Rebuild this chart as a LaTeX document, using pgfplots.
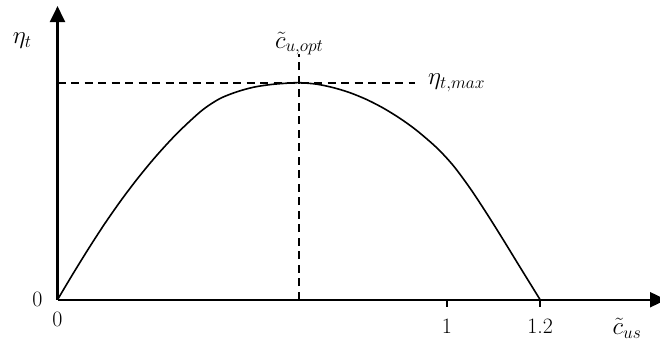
\documentclass[border=0pt]{standalone}
\usepackage{fix-cm}
\usepackage{pgfplots}
\pgfplotsset{compat=1.18}
\usetikzlibrary{arrows.meta}

% efficiency curve eta_t over the speed ratio c_us
\pgfplotstableread{
x      y
0.000  0.000
0.035  0.109
0.077  0.235
0.118  0.352
0.160  0.463
0.201  0.563
0.242  0.655
0.284  0.741
0.321  0.809
0.363  0.878
0.404  0.927
0.446  0.958
0.487  0.979
0.528  0.991
0.565  0.997
0.601  1.000
0.645  0.993
0.686  0.977
0.727  0.954
0.769  0.922
0.810  0.883
0.852  0.835
0.893  0.780
0.943  0.700
0.984  0.618
1.026  0.513
1.067  0.398
1.109  0.274
1.150  0.150
1.200  0.000
}\etacurve

\begin{document}
\begin{tikzpicture}[font=\fontsize{22}{26}\selectfont]
\begin{axis}[
  x=402.1bp, y=217bp,
  xmin=0, xmax=1.513, ymin=0, ymax=1.353,
  axis lines=left, enlargelimits=false, clip=false,
  axis line style={line width=2.3bp, -{Triangle[length=16bp,width=15bp]}},
  xtick={0.968,1.2}, xticklabels={1,1.2},
  extra x ticks={0}, extra x tick labels={0},
  extra x tick style={major tick length=0pt},
  ytick={0}, yticklabels={0},
  ytick style={draw=none},
  major tick length=7bp,
  tick align=outside,
  xtick style={line width=1.5bp, black},
  xticklabel style={font=\fontsize{22}{26}\selectfont, anchor=center, inner sep=1bp, yshift=-20bp},
  yticklabel style={font=\fontsize{22}{26}\selectfont, anchor=center, inner sep=1bp, xshift=-13bp},
]
\addplot[black, line width=1.6bp, smooth] table {\etacurve};
\addplot[black, line width=2bp, dash pattern=on 8bp off 5.5bp] coordinates {(0.601,0) (0.601,1.13)};
\addplot[black, line width=2bp, dash pattern=on 8bp off 5.5bp] coordinates {(0,1) (0.889,1)};

\begin{scope}[font=\fontsize{25}{30}\selectfont, inner sep=1bp]
\node at (axis cs:-0.088,1.192) {$\eta_t$};
\node at (axis cs:0.601,1.18) {$\tilde{c}_{u,opt}$};
\node[anchor=west, inner sep=0pt] at (axis cs:0.921,1.0) {$\eta_{t,max}$};
\node at (axis cs:1.416,-0.131) {$\tilde{c}_{us}$};
\end{scope}

\coordinate (bl) at (axis cs:-0.143,-0.191);
\coordinate (tr) at (axis cs:1.498,1.381);
\end{axis}
\pgfresetboundingbox
\useasboundingbox (bl) rectangle (tr);
\end{tikzpicture}
\end{document}
